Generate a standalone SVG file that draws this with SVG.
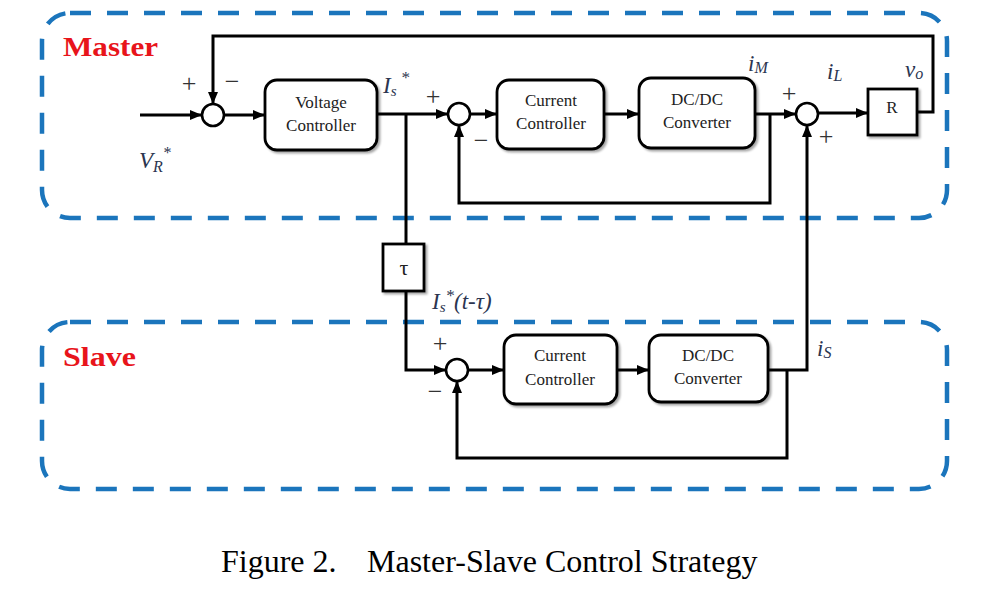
<svg xmlns="http://www.w3.org/2000/svg" width="1000" height="592" viewBox="0 0 1000 592">
<style>
.grp{fill:none;stroke:#1B75BC;stroke-width:4.5;stroke-dasharray:21 16}
.blk{fill:#fff;stroke:#000;stroke-width:2.8}
.sum{fill:#fff;stroke:#000;stroke-width:2.6}
.wire{fill:none;stroke:#000;stroke-width:3}
.arr{marker-end:url(#ah)}
.bt{font-family:"Liberation Serif",serif;font-size:17px;fill:#222;text-anchor:middle}
.var{font-family:"Liberation Serif",serif;font-style:italic;font-size:23px;fill:#2b3550}
.sg{font-family:"Liberation Serif",serif;font-size:26px;fill:#333;text-anchor:middle}
.grpt{font-family:"Liberation Serif",serif;font-weight:bold;font-size:27px;fill:#e8141b}
.cap{font-family:"Liberation Serif",serif;font-size:32px;fill:#000}
</style>
<defs>
<marker id="ah" markerWidth="12" markerHeight="10" refX="12" refY="5" orient="auto" markerUnits="userSpaceOnUse">
<path d="M0,0 L12,5 L0,10 Z" fill="#000"/>
</marker>
<filter id="sh" x="-10%" y="-10%" width="130%" height="130%">
<feDropShadow dx="2" dy="2" stdDeviation="1.2" flood-color="#000" flood-opacity="0.35"/>
</filter>
</defs>
<rect width="1000" height="592" fill="#fff"/>

<g id="master-group">
<rect class="grp" x="42" y="13" width="905" height="205" rx="28"/>
<text class="grpt" x="63" y="56" textLength="95" lengthAdjust="spacingAndGlyphs">Master</text>
</g>
<g id="slave-group">
<rect class="grp" x="42" y="322" width="905" height="167" rx="28"/>
<text class="grpt" x="63" y="366" textLength="73" lengthAdjust="spacingAndGlyphs">Slave</text>
</g>

<g id="connectors">
<path class="wire arr" d="M140,115 H202"/>
<path class="wire arr" d="M224,115 H265"/>
<path class="wire arr" d="M917,112 H933 V36 H213 V104"/>
<path class="wire arr" d="M377,114 H448"/>
<path class="wire" d="M406,114 V244"/>
<path class="wire arr" d="M406,291 V370 H446"/>
<path class="wire arr" d="M470,114 H497"/>
<path class="wire arr" d="M604,114 H639"/>
<path class="wire arr" d="M755,114 H796"/>
<path class="wire arr" d="M770,114 V203 H459 V125"/>
<path class="wire arr" d="M818,113 H868"/>
<path class="wire arr" d="M468,370 H504"/>
<path class="wire arr" d="M617,370 H649"/>
<path class="wire arr" d="M768,370 H807 V125"/>
<path class="wire arr" d="M787,370 V458 H457 V381"/>
</g>

<g id="sum1"><circle class="sum" cx="213" cy="115" r="11"/></g>
<g id="sum2"><circle class="sum" cx="459" cy="114" r="11"/></g>
<g id="sum3"><circle class="sum" cx="457" cy="370" r="11"/></g>
<g id="sum4"><circle class="sum" cx="807" cy="114" r="11"/></g>

<g id="voltage-controller">
<rect class="blk" x="265" y="80" width="112" height="70" rx="12" filter="url(#sh)"/>
<text class="bt" x="321" y="108">Voltage</text>
<text class="bt" x="321" y="131">Controller</text>
</g>
<g id="current-controller-master">
<rect class="blk" x="497" y="80" width="107" height="69" rx="12" filter="url(#sh)"/>
<text class="bt" x="551" y="106">Current</text>
<text class="bt" x="551" y="129">Controller</text>
</g>
<g id="dcdc-master">
<rect class="blk" x="639" y="78" width="116" height="70" rx="12" filter="url(#sh)"/>
<text class="bt" x="697" y="105">DC/DC</text>
<text class="bt" x="697" y="128">Converter</text>
</g>
<g id="r-load">
<rect class="blk" x="868" y="89" width="49" height="46" filter="url(#sh)"/>
<text class="bt" x="892" y="113">R</text>
</g>
<g id="delay">
<rect class="blk" x="383" y="244" width="41" height="47" filter="url(#sh)"/>
<text class="bt" x="404" y="275" style="font-size:22px">τ</text>
</g>
<g id="current-controller-slave">
<rect class="blk" x="504" y="335" width="113" height="69" rx="12" filter="url(#sh)"/>
<text class="bt" x="560" y="361">Current</text>
<text class="bt" x="560" y="385">Controller</text>
</g>
<g id="dcdc-slave">
<rect class="blk" x="649" y="335" width="119" height="67" rx="12" filter="url(#sh)"/>
<text class="bt" x="708" y="361">DC/DC</text>
<text class="bt" x="708" y="384">Converter</text>
</g>

<g id="labels">
<text class="sg" x="189" y="92">+</text>
<text class="sg" x="232" y="90">−</text>
<text class="sg" x="433" y="105">+</text>
<text class="sg" x="481" y="149">−</text>
<text class="sg" x="789" y="102">+</text>
<text class="sg" x="826" y="145">+</text>
<text class="sg" x="440" y="352">+</text>
<text class="sg" x="435" y="400">−</text>
<text class="var" x="139" y="168" font-size="25">V<tspan font-size="16" dy="4">R</tspan><tspan font-size="16" dy="-14">*</tspan></text>
<text class="var" x="383" y="93">I<tspan font-size="15" dy="3">s</tspan><tspan font-size="17" dy="-13"> *</tspan></text>
<text class="var" x="432" y="309">I<tspan font-size="15" dy="3">s</tspan><tspan font-size="17" dy="-11">*</tspan><tspan dy="8">(t-τ)</tspan></text>
<text class="var" x="748" y="71">i<tspan font-size="16" dy="2">M</tspan></text>
<text class="var" x="827" y="79">i<tspan font-size="16" dy="2">L</tspan></text>
<text class="var" x="905" y="77">v<tspan font-size="16" dy="2">o</tspan></text>
<text class="var" x="817" y="356">i<tspan font-size="16" dy="2">S</tspan></text>
</g>

<g id="caption">
<text class="cap" x="221" y="572">Figure 2.</text>
<text class="cap" x="367" y="572">Master-Slave Control Strategy</text>
</g>
</svg>
